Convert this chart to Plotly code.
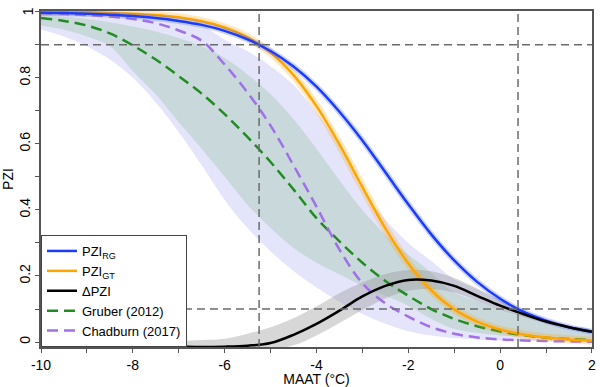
import plotly.graph_objects as go

# ---- data (x = MAAT in °C) ----
maat = [-10, -9.5, -9, -8.5, -8, -7.5, -7, -6.5, -6, -5.5, -5, -4.5, -4,
        -3.5, -3, -2.5, -2, -1.5, -1, -0.5, 0, 0.5, 1, 1.5, 2]

pzi_rg = [0.997, 0.996, 0.994, 0.991, 0.987, 0.981, 0.972, 0.960, 0.942, 0.916,
          0.881, 0.834, 0.773, 0.697, 0.610, 0.514, 0.417, 0.326, 0.247, 0.182,
          0.131, 0.092, 0.065, 0.045, 0.031]
pzi_gt = [0.999, 0.999, 0.998, 0.996, 0.994, 0.990, 0.983, 0.971, 0.952, 0.922,
          0.876, 0.808, 0.714, 0.598, 0.469, 0.344, 0.238, 0.156, 0.099, 0.062,
          0.038, 0.023, 0.014, 0.008, 0.005]
delta_pzi = [-0.005, -0.007, -0.008, -0.010, -0.011, -0.013, -0.014, -0.015, -0.014, -0.011,
             -0.003, 0.022, 0.055, 0.095, 0.138, 0.170, 0.188, 0.186, 0.170, 0.140,
             0.110, 0.085, 0.062, 0.045, 0.031]
delta_lo = [-0.02, -0.02, -0.02, -0.02, -0.02, -0.02, -0.02, -0.02, -0.02, -0.02,
            -0.02, -0.010, 0.020, 0.058, 0.097, 0.132, 0.155, 0.160, 0.150, 0.125,
            0.098, 0.076, 0.056, 0.041, 0.028]
delta_hi = [0.000, 0.000, 0.000, 0.000, 0.000, 0.001, 0.003, 0.006, 0.010, 0.025,
            0.045, 0.072, 0.108, 0.148, 0.180, 0.206, 0.218, 0.214, 0.194, 0.162,
            0.127, 0.096, 0.070, 0.050, 0.035]
gruber = [0.981, 0.972, 0.958, 0.934, 0.898, 0.855, 0.805, 0.752, 0.690, 0.620,
          0.545, 0.462, 0.375, 0.305, 0.240, 0.185, 0.140, 0.100, 0.070, 0.048,
          0.032, 0.021, 0.013, 0.009, 0.006]
chadburn = [0.995, 0.993, 0.990, 0.985, 0.978, 0.965, 0.943, 0.912, 0.840, 0.755,
            0.655, 0.535, 0.410, 0.280, 0.178, 0.117, 0.077, 0.045, 0.025, 0.014,
            0.008, 0.005, 0.003, 0.002, 0.001]
band_outer_lo = [0.946, 0.925, 0.895, 0.855, 0.800, 0.725, 0.635, 0.535, 0.430, 0.345,
                 0.275, 0.215, 0.165, 0.122, 0.085, 0.055, 0.033, 0.020, 0.012, 0.008,
                 0.005, 0.004, 0.003, 0.002, 0.002]
band_outer_hi = [1.000, 0.999, 0.997, 0.994, 0.990, 0.984, 0.975, 0.958, 0.915, 0.880,
                 0.835, 0.778, 0.695, 0.595, 0.460, 0.370, 0.300, 0.245, 0.190, 0.160,
                 0.125, 0.090, 0.065, 0.040, 0.021]
band_inner_lo = [0.958, 0.945, 0.925, 0.895, 0.820, 0.750, 0.665, 0.585, 0.500, 0.415,
                 0.345, 0.285, 0.240, 0.205, 0.170, 0.140, 0.110, 0.070, 0.040, 0.028,
                 0.020, 0.016, 0.014, 0.013, 0.012]
band_inner_hi = [0.990, 0.985, 0.978, 0.968, 0.955, 0.940, 0.920, 0.895, 0.860, 0.810,
                 0.750, 0.675, 0.585, 0.490, 0.400, 0.325, 0.265, 0.210, 0.150, 0.125,
                 0.100, 0.080, 0.063, 0.048, 0.036]

ref_maat = [-5.25, 0.39]
ref_pzi = [0.1, 0.9]

x_tickvals = [-10, -8, -6, -4, -2, 0, 2]
x_ticktext = ["-10", "-8", "-6", "-4", "-2", "0", "2"]
y_tickvals = [0, 0.2, 0.4, 0.6, 0.8]
y_ticktext = ["0", "0.2", "0.4", "0.6", "0.8"]
y_top_tick = 1
y_top_label = "1"

FONT = "Liberation Sans, Arial, sans-serif"
fig = go.Figure()


def band(lo, hi, color):
    fig.add_trace(go.Scatter(
        x=maat + maat[::-1], y=hi + lo[::-1], fill="toself", fillcolor=color,
        line=dict(width=0, shape="spline"), mode="lines", hoverinfo="skip",
        showlegend=False))


band(band_outer_lo, band_outer_hi, "#e4e4fb")
band(band_inner_lo, band_inner_hi, "#c9d9db")
band(delta_lo, delta_hi, "rgba(150,150,150,0.38)")

fig.add_trace(go.Scatter(x=maat, y=gruber, mode="lines", name="Gruber (2012)",
                         line=dict(color="#228B22", width=2.5, dash="11px,6px", shape="spline"),
                         legendrank=4))
fig.add_trace(go.Scatter(x=maat, y=chadburn, mode="lines", name="Chadburn (2017)",
                         line=dict(color="#a070e8", width=2.5, dash="11px,6px", shape="spline"),
                         legendrank=5))
fig.add_trace(go.Scatter(x=maat, y=pzi_gt, mode="lines", showlegend=False, hoverinfo="skip",
                         line=dict(color="rgba(255,165,0,0.25)", width=8, shape="spline")))
fig.add_trace(go.Scatter(x=maat, y=pzi_gt, mode="lines", name="PZI<sub>GT</sub>",
                         line=dict(color="#FFA500", width=2.5, shape="spline"), legendrank=2))
fig.add_trace(go.Scatter(x=maat, y=pzi_rg, mode="lines", showlegend=False, hoverinfo="skip",
                         line=dict(color="rgba(60,90,255,0.25)", width=6, shape="spline")))
fig.add_trace(go.Scatter(x=maat, y=pzi_rg, mode="lines", name="PZI<sub>RG</sub>",
                         line=dict(color="#1a3cff", width=2.5, shape="spline"), legendrank=1))
fig.add_trace(go.Scatter(x=maat, y=delta_pzi, mode="lines", name="ΔPZI",
                         line=dict(color="black", width=2.5, shape="spline"), legendrank=3))

for xv in ref_maat:
    fig.add_shape(type="line", xref="x", yref="paper", x0=xv, x1=xv, y0=0, y1=1,
                  line=dict(color="#6b6b6b", width=1.5, dash="8px,5px"), layer="above")
for yv in ref_pzi:
    fig.add_shape(type="line", xref="paper", yref="y", x0=0, x1=1, y0=yv, y1=yv,
                  line=dict(color="#6b6b6b", width=1.5, dash="8px,5px"), layer="above")

# top y tick label (kept as real text, placed on the y scale like the other labels)
fig.add_annotation(xref="paper", x=0, xanchor="center", xshift=-13.5,
                   yref="y", y=y_top_tick, yanchor="middle", showarrow=False,
                   text=y_top_label, textangle=-90,
                   font=dict(size=14, color="black", family=FONT))

axis_common = dict(showgrid=False, zeroline=False, showline=True, linecolor="#555555",
                   linewidth=1.5, mirror=True, ticks="outside", ticklen=4, tickwidth=1,
                   tickcolor="#555555", automargin=False, ticklabeloverflow="allow",
                   tickfont=dict(size=14, color="black", family=FONT))
fig.update_xaxes(range=[-10, 2.001], tickvals=x_tickvals, ticktext=x_ticktext,
                 minor=dict(dtick=1, tick0=-10, ticks="outside", ticklen=4, tickwidth=1,
                            tickcolor="#555555"),
                 title=dict(text="MAAT (°C)", font=dict(size=14, family=FONT, color="black"),
                            standoff=0), **axis_common)
fig.update_yaxes(range=[-0.015, 1.002], tickvals=y_tickvals, ticktext=y_ticktext, tickangle=-90,
                 minor=dict(dtick=0.1, tick0=0, ticks="outside", ticklen=4, tickwidth=1,
                            tickcolor="#555555"),
                 title=dict(text="PZI", font=dict(size=14, family=FONT, color="black"),
                            standoff=2), **axis_common)

fig.update_layout(
    width=600, height=387,
    margin=dict(l=41, r=8, t=11, b=40),
    paper_bgcolor="white", plot_bgcolor="white",
    font=dict(family=FONT, size=13, color="black"),
    legend=dict(x=0, y=0, xanchor="left", yanchor="bottom", bgcolor="white",
                bordercolor="#444444", borderwidth=1, font=dict(size=13, family=FONT),
                tracegroupgap=0, itemwidth=30),
    showlegend=True,
)
# remove the browser's default 8px body margin so the figure fills the window exactly
fig.write_html("out.html", config={"displayModeBar": False},
               post_script="document.body.style.margin='0px';")
